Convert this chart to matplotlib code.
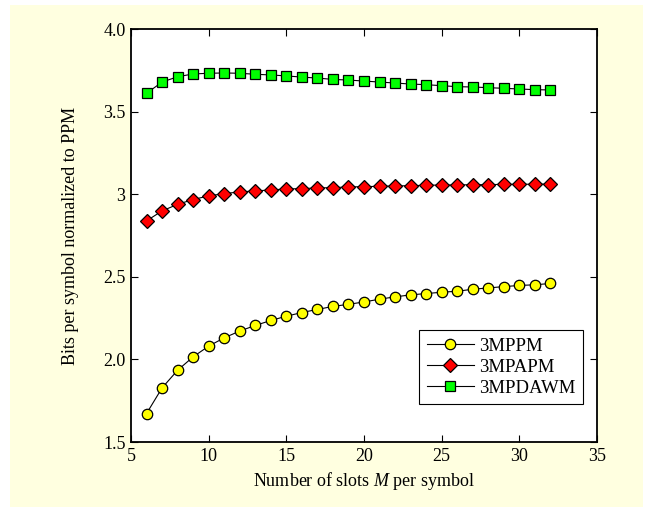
import numpy as np
import matplotlib
matplotlib.use("Agg")
import matplotlib.pyplot as plt

plt.rcParams['font.family'] = ['Liberation Serif', 'DejaVu Serif']
plt.rcParams['mathtext.fontset'] = 'custom'
plt.rcParams['mathtext.rm'] = 'Liberation Serif'
plt.rcParams['mathtext.it'] = 'Liberation Serif:italic'

# slots per symbol
M = list(range(6, 33))

# bits per symbol normalized to PPM
mppm = [1.673, 1.828, 1.935, 2.016, 2.081, 2.131, 2.172, 2.206, 2.236, 2.262,
        2.284, 2.303, 2.321, 2.334, 2.348, 2.365, 2.379, 2.391, 2.399, 2.407,
        2.413, 2.425, 2.433, 2.441, 2.448, 2.452, 2.460]
mpapm = [2.839, 2.899, 2.939, 2.968, 2.990, 3.004, 3.014, 3.020, 3.026, 3.032,
         3.034, 3.038, 3.040, 3.044, 3.046, 3.048, 3.050, 3.052, 3.054, 3.056,
         3.056, 3.058, 3.058, 3.060, 3.060, 3.061, 3.061]
mpdawm = [3.611, 3.679, 3.711, 3.728, 3.732, 3.734, 3.732, 3.726, 3.722, 3.716,
          3.709, 3.703, 3.695, 3.691, 3.685, 3.679, 3.673, 3.667, 3.663, 3.657,
          3.651, 3.649, 3.645, 3.641, 3.637, 3.633, 3.631]

xticks = [5, 10, 15, 20, 25, 30, 35]
yticks = [1.5, 2.0, 2.5, 3.0, 3.5, 4.0]
ytick_labels = ["1.5", "2.0", "2.5", "3", "3.5", "4.0"]

fig = plt.figure(figsize=(6.47, 5.07), dpi=100)
fig.patch.set_facecolor('white')
# cream background panel, kept behind the axes
bg = plt.Rectangle((10 / 647, 0), 633 / 647, 502 / 507,
                   transform=fig.transFigure, facecolor='#FFFFE0',
                   edgecolor='none', zorder=-10)
fig.add_artist(bg)

ax = fig.add_axes([0.2025, 0.128, 0.7202, 0.8148])
ax.set_facecolor('white')

ax.plot(M, mppm, '-o', color='black', lw=0.8, ms=7.5,
        mfc='#FFFF00', mec='black', mew=0.9, label='3MPPM')
ax.plot(M, mpapm, '-D', color='black', lw=0.8, ms=7.3,
        mfc='#FF0000', mec='black', mew=0.9, label='3MPAPM')
ax.plot(M, mpdawm, '-s', color='black', lw=0.8, ms=6.5,
        mfc='#00FF00', mec='black', mew=0.9, label='3MPDAWM')

ax.set_xlim(5, 35)
ax.set_ylim(1.5, 4.0)
ax.set_xticks(xticks)
ax.set_yticks(yticks)
ax.set_yticklabels(ytick_labels)
ax.tick_params(direction='in', top=True, right=True, labelsize=13, length=5,
               width=0.8, pad=4)
for s in ax.spines.values():
    s.set_linewidth(1.3)

ax.set_xlabel('Number of slots $M$ per symbol', fontsize=13, labelpad=4)
ax.set_ylabel('Bits per symbol normalized to PPM', fontsize=13, labelpad=17)

leg = ax.legend(loc='lower right', bbox_to_anchor=(0.970, 0.092), fontsize=13.5,
                fancybox=False, edgecolor='black', framealpha=1,
                handlelength=2.5, handletextpad=0.3, borderpad=0.4,
                labelspacing=0.2, borderaxespad=0)
leg.get_frame().set_linewidth(0.8)

fig.savefig('out.png', dpi=100, facecolor=fig.get_facecolor())
